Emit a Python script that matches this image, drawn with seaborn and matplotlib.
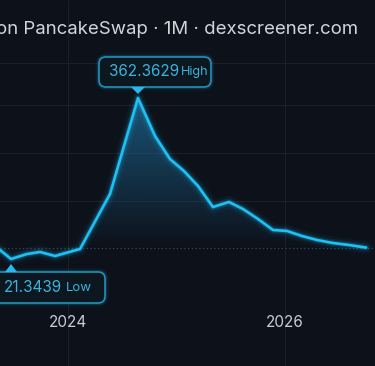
import numpy as np
import pandas as pd
import seaborn as sns
import matplotlib.pyplot as plt
from matplotlib.patches import FancyBboxPatch, Polygon
from matplotlib.path import Path
from matplotlib.transforms import IdentityTransform
from matplotlib.colors import LinearSegmentedColormap, to_rgb

# monthly price (x as fractional year)
years = [2023.300, 2023.373, 2023.475, 2023.622, 2023.742, 2023.880, 2024.111,
         2024.387, 2024.645, 2024.802, 2024.940, 2025.069, 2025.198, 2025.336,
         2025.484, 2025.613, 2025.751, 2025.889, 2026.018, 2026.157, 2026.295,
         2026.442, 2026.590, 2026.747]
prices = [48.9, 40.4, 21.34, 31.9, 36.2, 27.7, 42.5,
          159.0, 362.36, 281.9, 233.1, 207.7, 176.0, 131.5,
          142.1, 127.2, 106.1, 82.8, 80.7, 70.0, 61.6,
          55.2, 51.0, 45.5]
high_value = '362.3629'
low_value = '21.3439'
title = 'on PancakeSwap · 1M · dexscreener.com'
tick_years = [2024, 2026]
tick_labels = ['2024', '2026']
grid_prices = [144, 246, 348, 437]

bg = '#0d111a'
line_c = '#1fc0f4'
box_txt = '#3bb4dc'

sns.set_theme(style='dark', rc={'axes.facecolor': bg, 'figure.facecolor': bg,
                                'grid.color': '#1a1f2a', 'grid.linewidth': 0.8})
plt.rcParams['font.family'] = ['Inter', 'DejaVu Sans']

df = pd.DataFrame({'year': years, 'price': prices})
last_price = prices[-1]

fig = plt.figure(figsize=(3.75, 3.66), dpi=100)
ax = fig.add_axes([0, 0, 1, 1])
xlim = (2023.3733, 2026.8295)
ylim = (-205.3, 569.9)

# gradient under the line, down to the last price
fb = ax.fill_between(df.year, df.price, last_price, where=df.price >= last_price,
                     interpolate=True, color='none', lw=0)
r, g, b = to_rgb('#1e6c98')
cmap = LinearSegmentedColormap.from_list('fade', [(r, g, b, 0.0), (r, g, b, 0.75)])
grad = np.linspace(0, 1, 256).reshape(-1, 1)
im = ax.imshow(grad, extent=[xlim[0], xlim[1], last_price, max(prices)], origin='lower',
               aspect='auto', cmap=cmap, zorder=1)
clip = Path.make_compound_path(*fb.get_paths())
im.set_clip_path(clip, ax.transData)

ax.axhline(last_price, color='#34485a', lw=0.9, ls=(0, (1, 2)), zorder=2)

# glow + line
for w, a in [(9, 0.05), (5.5, 0.10), (3.5, 0.18)]:
    ax.plot(df.year, df.price, color=line_c, lw=w, alpha=a, zorder=3, solid_capstyle='round')
sns.lineplot(data=df, x='year', y='price', ax=ax, color=line_c, lw=1.9, zorder=4)

ax.set_xlim(*xlim)
ax.set_ylim(*ylim)
ax.set_xticks(tick_years, tick_labels)
ax.set_yticks(grid_prices)
ax.set_yticklabels([])
ax.set_xlabel('')
ax.set_ylabel('')
ax.grid(True)
ax.tick_params(axis='x', length=0, pad=-37, labelsize=11, colors='#c9ccd3')
ax.tick_params(axis='y', length=0)
for s in ax.spines.values():
    s.set_visible(False)

# high / low callouts, placed in pixels around the points
idx_hi = int(np.argmax(prices))
idx_lo = int(np.argmin(prices))
hx, hy = ax.transData.transform((years[idx_hi], prices[idx_hi]))
lx, ly = ax.transData.transform((years[idx_lo], prices[idx_lo]))
T = IdentityTransform()


def callout(x0, y0, w, h):
    for lw, a in [(5, 0.06), (3, 0.12)]:
        fig.add_artist(FancyBboxPatch((x0, y0), w, h, boxstyle='round,pad=0,rounding_size=7',
                                      fc='none', ec=line_c, lw=lw, alpha=a, transform=T))
    fig.add_artist(FancyBboxPatch((x0, y0), w, h, boxstyle='round,pad=0,rounding_size=7',
                                  fc='#0c1720', ec='#2290b8', lw=1.2, transform=T))


callout(hx - 39, hy + 11, 112, 30)
fig.add_artist(Polygon([(hx - 7, hy + 11), (hx + 7, hy + 11), (hx, hy + 4)],
                       closed=True, fc='#2ab8ec', ec='none', transform=T))
fig.text(hx - 29, hy + 26, high_value, transform=T, ha='left', va='center',
         color=box_txt, fontsize=11)
fig.text(hx + 43, hy + 26, 'High', transform=T, ha='left', va='center',
         color=box_txt, fontsize=9)

callout(lx - 20, ly - 44, 114, 31)
fig.add_artist(Polygon([(lx - 6, ly - 13), (lx + 6, ly - 13), (lx, ly - 5)],
                       closed=True, fc='#2ab8ec', ec='none', transform=T))
fig.text(lx - 7, ly - 29, low_value, transform=T, ha='left', va='center',
         color=box_txt, fontsize=11)
fig.text(lx + 55, ly - 29, 'Low', transform=T, ha='left', va='center',
         color=box_txt, fontsize=9.5)

fig.text(358 / 375, 1 - 29 / 366, title, ha='right', va='center', color='#d2d5dc', fontsize=13.4)

fig.savefig('out.png', dpi=100, facecolor=bg)
